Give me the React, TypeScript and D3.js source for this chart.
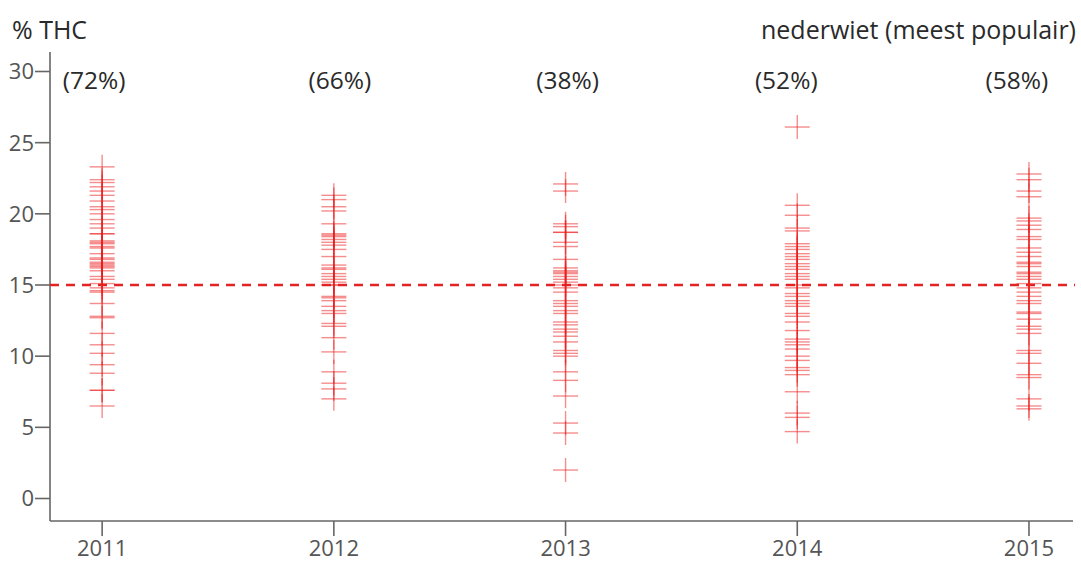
import React from "react";
import * as d3 from "d3";

// THC percentage of individual samples per year
const years = [2011, 2012, 2013, 2014, 2015];
const shareLabels = ["(72%)", "(66%)", "(38%)", "(52%)", "(58%)"];

const thc2011 = [23.3, 22.4, 22.2, 21.9, 21.6, 21.3, 20.9, 20.5, 20.3, 20.0, 19.6, 19.3, 19.0, 18.6, 18.6, 18.1, 18.0, 17.9, 17.7, 17.6, 17.2, 16.9, 16.8, 16.6, 16.5, 16.4, 16.3, 16.2, 16.0, 15.6, 15.4, 15.1, 14.8, 14.6, 14.5, 13.7, 12.8, 12.7, 11.6, 10.8, 10.2, 9.4, 8.8, 7.6, 7.6, 6.5];
const thc2012 = [21.3, 21.0, 20.5, 20.2, 19.3, 18.6, 18.5, 18.4, 18.2, 18.0, 17.8, 17.5, 17.0, 16.4, 16.2, 16.1, 15.8, 15.6, 15.4, 15.2, 15.0, 15.0, 14.2, 14.1, 13.9, 13.5, 13.2, 13.0, 12.3, 12.1, 11.3, 10.3, 8.9, 8.1, 7.7, 7.0];
const thc2013 = [22.1, 21.6, 19.3, 19.1, 18.7, 18.7, 18.0, 17.7, 16.8, 16.2, 16.0, 15.9, 15.8, 15.6, 15.4, 15.2, 15.0, 14.8, 14.5, 13.9, 13.7, 13.5, 13.2, 13.0, 12.4, 12.2, 11.9, 11.7, 11.4, 11.0, 10.4, 10.2, 10.0, 8.9, 8.3, 7.2, 5.3, 4.6, 2.0];
const thc2014 = [26.1, 20.6, 19.9, 19.0, 18.8, 17.9, 17.7, 17.5, 17.2, 17.0, 16.8, 16.5, 16.3, 16.1, 15.8, 15.6, 15.4, 15.0, 14.8, 14.4, 14.2, 13.9, 13.7, 13.5, 13.0, 12.8, 12.4, 11.8, 11.2, 11.0, 10.8, 10.5, 10.0, 9.7, 9.2, 9.0, 8.7, 7.5, 6.0, 5.7, 4.7];
const thc2015 = [22.8, 22.4, 21.6, 21.2, 19.7, 19.5, 19.2, 18.9, 18.4, 18.2, 17.6, 17.3, 17.0, 16.6, 16.5, 16.3, 15.9, 15.8, 15.6, 15.4, 15.1, 14.8, 14.5, 14.2, 13.9, 13.7, 13.1, 13.0, 12.6, 12.1, 11.9, 11.6, 10.4, 10.2, 9.5, 8.7, 8.5, 7.0, 6.5, 6.3];

const samplesByYear = [thc2011, thc2012, thc2013, thc2014, thc2015];
const yTicks = [0, 5, 10, 15, 20, 25, 30];
const referenceLevel = 15;

const W = 1081;
const H = 562;
const FONT = "'Open Sans', Lato, sans-serif";

export default function App() {
  const x = d3.scaleLinear().domain([2010.775, 2015.19]).range([50, 1073]);
  const y = d3.scaleLinear().domain([0, 30]).range([498.5, 71.5]);
  const axisY0 = 52;
  const axisYBottom = 521;
  const crossW = 12.5;
  const crossH = 12;
  const labelShift = [-8, 6, 2, -11, -12];

  return (
    <svg
      width={W}
      height={H}
      style={{ position: "absolute", left: 0, top: 0, background: "#fff" }}
      fontFamily={FONT}
    >
      {/* titles */}
      <text x={12} y={39} fontSize={25} fill="#2a2a2a">% THC</text>
      <text x={1076} y={39} fontSize={25} fill="#2a2a2a" textAnchor="end">
        nederwiet (meest populair)
      </text>

      {/* y axis */}
      <line x1={50} x2={50} y1={axisY0} y2={axisYBottom} stroke="#666" strokeWidth={1.6} />
      {yTicks.map((t) => (
        <g key={t}>
          <line x1={35} x2={50} y1={y(t)} y2={y(t)} stroke="#666" strokeWidth={1.6} />
          <text x={34} y={y(t)} dy="0.36em" fontSize={22} fill="#555" textAnchor="end">
            {t}
          </text>
        </g>
      ))}

      {/* x axis */}
      <line x1={50} x2={1073} y1={axisYBottom} y2={axisYBottom} stroke="#666" strokeWidth={1.6} />
      {years.map((yr) => (
        <g key={yr}>
          <line x1={x(yr)} x2={x(yr)} y1={axisYBottom} y2={536} stroke="#666" strokeWidth={1.6} />
          <text x={x(yr)} y={556} fontSize={22} fill="#555" textAnchor="middle">
            {yr}
          </text>
        </g>
      ))}

      {/* share labels */}
      {years.map((yr, i) => (
        <text
          key={"s" + yr}
          x={x(yr) + labelShift[i]}
          y={89}
          fontSize={24.5}
          fill="#2a2a2a"
          textAnchor="middle"
        >
          {shareLabels[i]}
        </text>
      ))}

      {/* sample crosses */}
      {samplesByYear.map((vals, i) => (
        <g key={"c" + i} stroke="#ee1c1c" strokeOpacity={0.5} strokeWidth={1.4}>
          {vals.map((v, j) => {
            const cx = x(years[i]);
            const cy = y(v);
            return (
              <g key={j}>
                <line x1={cx - crossW} x2={cx + crossW} y1={cy} y2={cy} />
                <line x1={cx} x2={cx} y1={cy - crossH} y2={cy + crossH} />
              </g>
            );
          })}
        </g>
      ))}

      {/* reference level */}
      <line
        x1={50}
        x2={1075}
        y1={y(referenceLevel)}
        y2={y(referenceLevel)}
        stroke="#e32222"
        strokeWidth={2.6}
        strokeDasharray="9,7"
      />
    </svg>
  );
}
